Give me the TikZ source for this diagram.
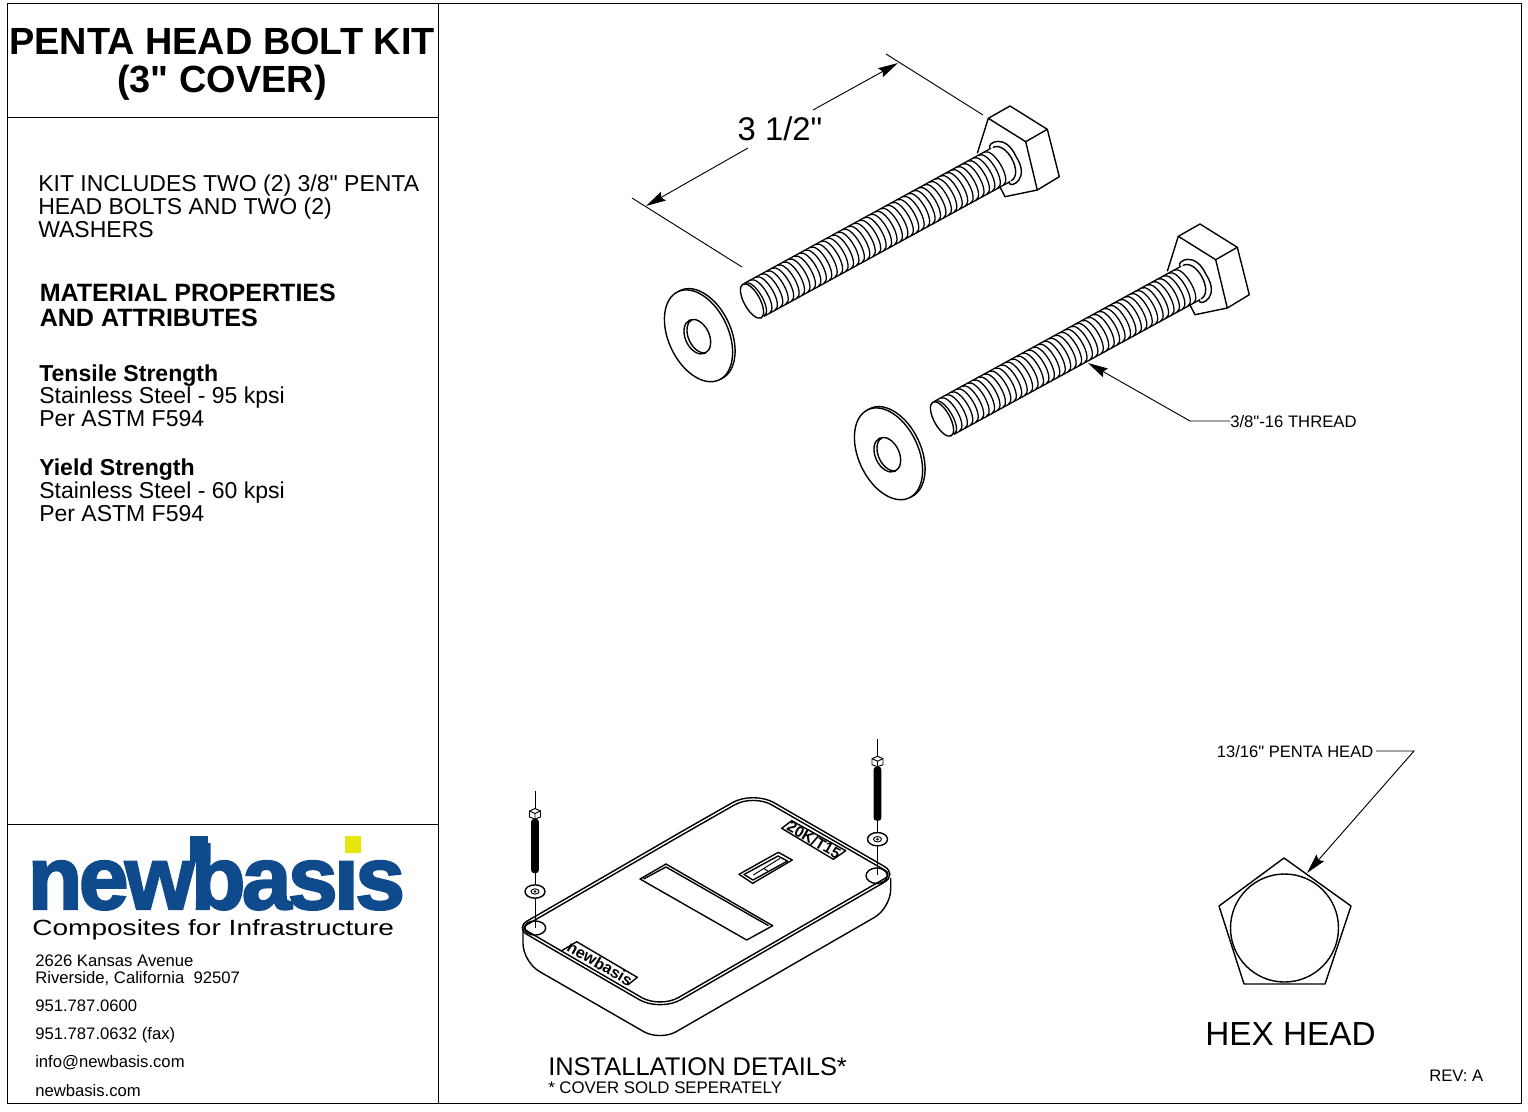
\documentclass[tikz,border=0pt]{standalone}
\usepackage{fontspec}
\setmainfont{Liberation Sans}[Ligatures=TeXOff]
\newfontfamily\logofont{Liberation Sans Bold}[FakeBold=2.5,LetterSpace=-4]
\usetikzlibrary{positioning,arrows.meta}
\definecolor{logoblue}{HTML}{0F4A8C}
\definecolor{logoyellow}{HTML}{E6E60A}
\newcommand{\sizedfont}[1]{\fontsize{#1}{#1}\selectfont}

% one bolt, drawn from its end face to its head
\newcommand{\boltparts}[2]{
  \begin{scope}[shift={(#1,#2)}]
    \draw[partline] (988.3,118.3) -- (1010,106) -- (1047.3,129.3) -- (1025.7,141.7) -- cycle;
    \draw[partline] (1047.3,129.3) -- (1059.3,176.7) -- (1037.3,190) -- (1025.7,141.7);
    \draw[partline] (1037.3,190) -- (1005,196.7) -- (999.3,185.7);
    \draw[partline] (988.3,118.3) -- (977.3,153.3);
    \begin{scope}[shift={(752,301)},rotate=28.7]
      \draw[partline] (0,0) ellipse [x radius=6pt,y radius=14.4pt];
      \foreach \a in {2,8.2,...,280} {
        \draw[threadline] (\a,-19.2) .. controls (\a+11,-19.2) and (\a+12,19.2) .. (\a+1,19.2);
      }
      \draw[threadline] (2,-19.2) -- (283,-19.2) (3,19.2) -- (284,19.2);
      \draw[partline] (285,-19) .. controls (300,-19) and (300,19) .. (285,19);
      \draw[partline] (282,-20) .. controls (282,-26) and (303,-26) .. (301,0) .. controls (303,26) and (282,26) .. (282,20);
    \end{scope}
    % washer
    \draw[partline] (701,334.5) ellipse [x radius=36.5pt,y radius=22.5pt,rotate=-65];
    \draw[partline,fill=white] (698.5,335.8) ellipse [x radius=36.5pt,y radius=22.5pt,rotate=-65];
    \draw[partline] (697.3,336.7) ellipse [x radius=13.7pt,y radius=9pt,rotate=-65];
    \begin{scope}
      \clip (697.3,336.7) ellipse [x radius=13.7pt,y radius=9pt,rotate=-65];
      \draw[partline] (700.3,335.7) ellipse [x radius=13.7pt,y radius=9pt,rotate=-65];
    \end{scope}
  \end{scope}
}

% small bolt and washer above a hole of the cover
\newcommand{\smallbolt}[4]{
  \draw[thinline] (#1,#2) -- (#1,#4);
  \draw[thinline,fill=white] (#1-5.5,#3-8) -- (#1,#3-10.5) -- (#1+5.5,#3-8) -- (#1+5.5,#3-2) -- (#1,#3) -- (#1-5.5,#3-2) -- cycle;
  \draw[thinline] (#1-5.5,#3-8) -- (#1,#3-5.5) -- (#1+5.5,#3-8) (#1,#3-5.5) -- (#1,#3);
  \fill[rounded corners=2pt] (#1-3.8,#3) rectangle (#1+3.8,#3+54);
  \draw[partline,fill=white] (#1,#3+72.5) ellipse [x radius=7.5pt,y radius=5pt];
  \draw[thinline] (#1,#3+72.5) ellipse [x radius=3pt,y radius=2pt];
  \fill (#1,#3+72.5) circle [radius=1pt];
}

\begin{document}
\begin{tikzpicture}[x=0.75pt,y=-0.75pt]
    \tikzstyle{partline} = [line width=1.05pt,line join=round]
    \tikzstyle{threadline} = [line width=0.95pt]
    \tikzstyle{thinline} = [line width=0.7pt]
    \tikzstyle{frameline} = [line width=0.6pt]
    \tikzstyle{dimline} = [line width=0.7pt,-{Stealth[length=15pt,width=7.5pt,inset=2pt]}]
    \tikzstyle{plain} = [inner sep=0pt,anchor=base west]
    \tikzstyle{titletext} = [inner sep=0pt,anchor=base,font=\bfseries\sizedfont{28.4}]
    \tikzstyle{bodytext} = [plain,font=\sizedfont{17.25}]
    \tikzstyle{headtext} = [plain,font=\bfseries\sizedfont{17.3}]
    \tikzstyle{bigheadtext} = [plain,font=\bfseries\sizedfont{18.8}]
    \tikzstyle{smalltext} = [plain,font=\sizedfont{12.5}]
    \useasboundingbox (0,0) rectangle (1528,1111);

    % frame
    \draw[frameline] (7,3) rectangle (1521,1103);
    \draw[frameline] (438,3) -- (438,1103);
    \draw[frameline] (7,117) -- (438,117);
    \draw[frameline] (7,824) -- (438,824);

    % left column
    \node[titletext] (title1) at (222,54.5) {PENTA HEAD BOLT KIT};
    \node[titletext] (title2) at (222,92.5) {(3" COVER)};
    \node[bodytext] (kit1) at (38,191) {KIT INCLUDES TWO (2) 3/8" PENTA};
    \node[bodytext] (kit2) at (38,214) {HEAD BOLTS AND TWO (2)};
    \node[bodytext] (kit3) at (38,237) {WASHERS};
    \node[bigheadtext] (material1) at (39.5,301) {MATERIAL PROPERTIES};
    \node[bigheadtext] (material2) at (39.5,326) {AND ATTRIBUTES};
    \node[headtext] (tensile1) at (39,381) {Tensile Strength};
    \node[bodytext] (tensile2) at (39,403) {Stainless Steel - 95 kpsi};
    \node[bodytext] (tensile3) at (39,426) {Per ASTM F594};
    \node[headtext] (yield1) at (39,475) {Yield Strength};
    \node[bodytext] (yield2) at (39,498) {Stainless Steel - 60 kpsi};
    \node[bodytext] (yield3) at (39,521) {Per ASTM F594};

    % logo
    \node[plain,font=\logofont\sizedfont{67},text=logoblue] (logo) at (27.5,909) {newbasis};
    \fill[logoblue] (190,836) rectangle (208,862);
    \fill[white] (328,834) rectangle (368,857);
    \fill[logoyellow] (345,836) rectangle (361,853);
    \node[plain,font=\sizedfont{16.5},xscale=1.275] (slogan) at (32,935) {Composites for Infrastructure};
    \node[smalltext] (addr1) at (35,966) {2626 Kansas Avenue};
    \node[smalltext] (addr2) at (35,983) {Riverside, California\ \ 92507};
    \node[smalltext] (phone) at (35,1011) {951.787.0600};
    \node[smalltext] (fax) at (35,1039) {951.787.0632 (fax)};
    \node[smalltext] (mail) at (35,1067) {info@newbasis.com};
    \node[smalltext] (web) at (35,1096) {newbasis.com};

    % bolts
    \boltparts{0}{0}
    \boltparts{190}{118}

    % length dimension
    \node[inner sep=0pt,anchor=base,font=\sizedfont{24.6}] (lengthtext) at (780,140) {3 1/2"};
    \coordinate (dimleft) at (646,206);
    \coordinate (dimright) at (898,63);
    \draw[thinline] (632,198) -- (742,267);
    \draw[thinline] (886,54) -- (983,115);
    \draw[dimline] (748,148) -- (dimleft);
    \draw[dimline] (813,110) -- (dimright);

    % thread leader
    \node[smalltext] (threadtext) at (1230,427) {3/8"-16 THREAD};
    \coordinate (threadbend) at (1190,421);
    \coordinate (threadtip) at (1088,363);
    \draw[dimline] (threadtext.west |- threadbend) -- (threadbend) -- (threadtip);

    % cover
    \draw[partline] (680,832.5) [rounded corners=18pt] -- (753.3,790.7) [rounded corners=12pt] -- (898,874.3)
       [rounded corners=18pt] -- (660,1011.7) [rounded corners=10pt] -- (515.5,927.8) [sharp corners] -- cycle;
    \draw[partline] (680,836) [rounded corners=16pt] -- (753.3,794.2) [rounded corners=6pt] -- (892,874.3)
       [rounded corners=16pt] -- (660,1008.2) [rounded corners=5pt] -- (521.5,927.8) [sharp corners] -- cycle;
    \draw[partline,rounded corners=14pt] (523,925) -- (523,962) -- (660,1041) -- (890.7,908) -- (890.7,878);
    \draw[partline] (535,928) ellipse [x radius=8pt,y radius=5.3pt];
    \draw[partline] (876.7,875.7) ellipse [x radius=8pt,y radius=5.8pt];
    \draw[partline] (666,864) -- (772.7,925.7) -- (746.7,940) -- (640,879) -- cycle;
    \draw[partline] (643.5,879) -- (666,867) -- (768.5,925.7);
    \draw[partline] (778.3,852.3) -- (792.3,860) -- (752.7,883.3) -- (739,874.3) -- cycle;
    \draw[partline] (778,856) -- (787.5,861) -- (753,880) -- (744,874.5) -- cycle;
    \draw[thinline] (753.3,875) -- (780,858.3) (763.3,868.3) -- (768,871);
    \draw[partline] (561.7,950.7) -- (576.7,941.7) -- (637.3,977.3) -- (627.7,985);
    \draw[partline] (781.7,828.3) -- (791.7,820.7) -- (845.7,850.7) -- (833.3,859.3) -- cycle;
    \node[inner sep=0pt,rotate=-30,font=\bfseries\sizedfont{12}] (covername) at (600,963.5) {newbasis};
    \node[inner sep=0pt,rotate=-30,font=\bfseries\sizedfont{11.5}] (covercode) at (814,840) {20K/T15};
    \smallbolt{535}{791}{819}{928}
    \smallbolt{877.5}{739}{766.7}{875}

    % installation captions
    \node[plain,font=\sizedfont{19.1}] (install) at (548,1075) {INSTALLATION DETAILS*};
    \node[plain,font=\sizedfont{12.6}] (sold) at (548,1093) {* COVER SOLD SEPERATELY};

    % penta head
    \node[inner sep=0pt,anchor=base east,font=\sizedfont{12.4}] (pentatext) at (1373.5,757) {13/16" PENTA HEAD};
    \coordinate (pentabend) at (1414,751);
    \coordinate (pentatip) at (1307,873);
    \draw[dimline] (1376,751) -- (pentabend) -- (pentatip);
    \draw[partline] (1284,858) -- (1351,906) -- (1325,984) -- (1244,984) -- (1219,906) -- cycle;
    \draw[partline] (1284.5,928) circle [radius=40.5pt];
    \node[inner sep=0pt,anchor=base,font=\sizedfont{25}] (hextext) at (1290.5,1045) {HEX HEAD};
    \node[plain,font=\sizedfont{12.5}] (revtext) at (1429,1081) {REV: A};
\end{tikzpicture}
\end{document}
